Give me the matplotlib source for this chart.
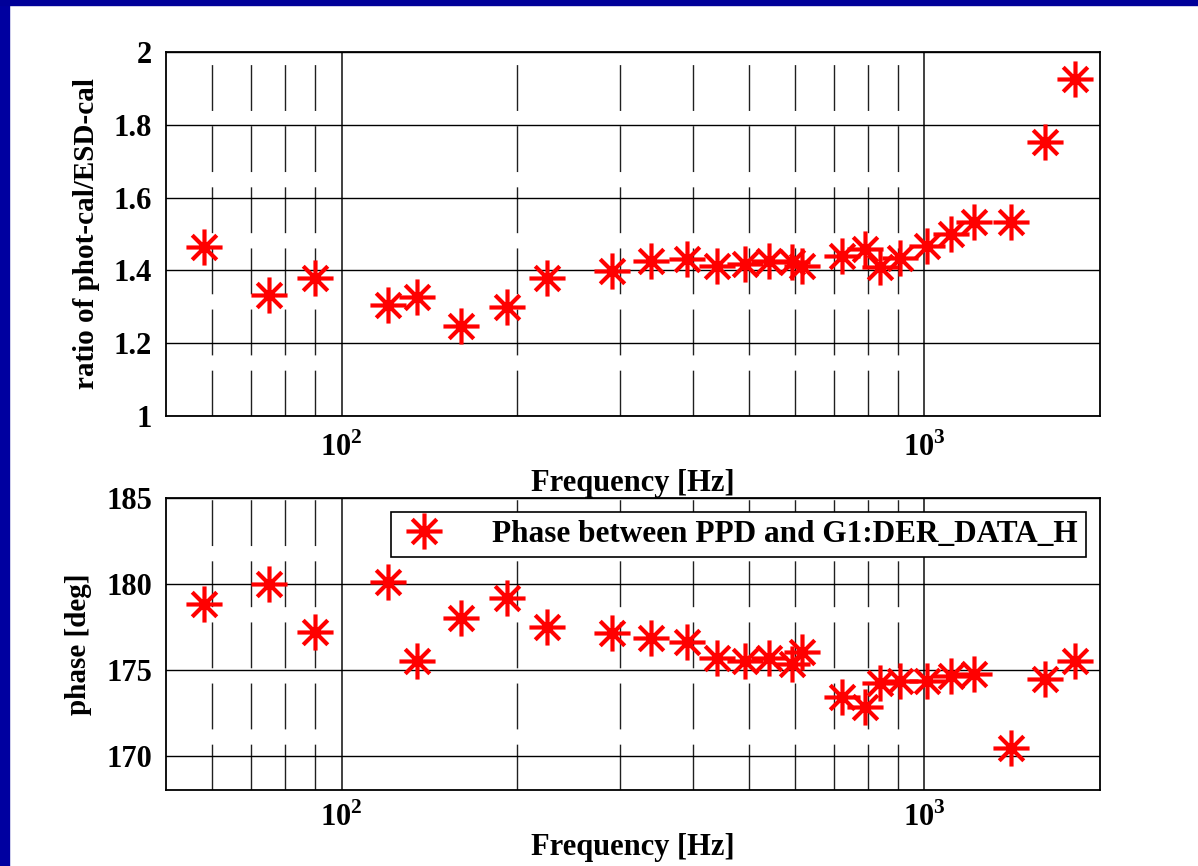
import numpy as np
import matplotlib
matplotlib.use("Agg")
import matplotlib.pyplot as plt
from matplotlib.path import Path
from matplotlib.patches import Rectangle
from matplotlib.ticker import NullFormatter, FixedLocator

plt.rcParams['font.family'] = ['Liberation Serif', 'DejaVu Serif']
plt.rcParams['font.weight'] = 'bold'
plt.rcParams['mathtext.fontset'] = 'custom'
plt.rcParams['mathtext.rm'] = 'Liberation Serif:bold'
plt.rcParams['mathtext.bf'] = 'Liberation Serif:bold'

# frequencies [Hz]
freq = [58, 75, 90, 120, 134.5, 160.5, 192, 225.5, 290.5, 339, 391, 440,
        492, 541.5, 593, 617.5, 722.5, 790, 839.5, 909.5, 1008, 1112, 1215,
        1410, 1612, 1814]

ratio = [1.463, 1.332, 1.378, 1.304, 1.328, 1.248, 1.299, 1.378, 1.399,
         1.427, 1.430, 1.412, 1.417, 1.426, 1.422, 1.412, 1.440, 1.459,
         1.409, 1.435, 1.468, 1.501, 1.533, 1.533, 1.752, 1.926]

phase = [178.83, 180.0, 177.22, 180.1, 175.5, 178.0, 179.2, 177.5, 177.13,
         176.84, 176.62, 175.70, 175.51, 175.70, 175.31, 176.03, 173.42,
         172.81, 174.24, 174.34, 174.34, 174.63, 174.73, 170.43, 174.44,
         175.51]

ratio_ticks = [1, 1.2, 1.4, 1.6, 1.8, 2]
ratio_labels = ['1', '1.2', '1.4', '1.6', '1.8', '2']
phase_ticks = [170, 175, 180, 185]
legend_label = 'Phase between PPD and G1:DER_DATA_H'

# MATLAB-like asterisk: plus plus a smaller cross
d = 0.68
verts = [(-1, 0), (1, 0), (0, -1), (0, 1), (-d, -d), (d, d), (-d, d), (d, -d)]
codes = [Path.MOVETO, Path.LINETO] * 4
asterisk = Path(verts, codes)

fig = plt.figure(figsize=(11.98, 8.66), dpi=100)
fig.patches.append(Rectangle((0, 0), 9 / 1198, 1, transform=fig.transFigure,
                             color='#0000a0', zorder=0))
fig.patches.append(Rectangle((0, 1 - 5 / 866), 1, 5 / 866,
                             transform=fig.transFigure, color='#000099', zorder=0))

ax1 = fig.add_axes([166 / 1198, 1 - 416 / 866, 934 / 1198, 364 / 866])
ax2 = fig.add_axes([166 / 1198, 1 - 790 / 866, 934 / 1198, 292 / 866])


def style(ax):
    ax.set_xscale('log')
    ax.set_xlim(50, 2000)
    ax.set_xticks([100, 1000])
    ax.set_xticklabels([r'$10^{2}$', r'$10^{3}$'])
    ax.xaxis.set_minor_locator(FixedLocator(
        [60, 70, 80, 90, 200, 300, 400, 500, 600, 700, 800, 900]))
    ax.xaxis.set_minor_formatter(NullFormatter())
    ax.tick_params(which='both', length=0, labelsize=22)
    ax.tick_params(axis='y', pad=10)
    ax.tick_params(axis='x', pad=12)
    ax.grid(True, which='major', axis='y', color='black', lw=1, ls='-')
    ax.grid(True, which='major', axis='x', color='#202020', lw=1.2, ls='-')
    ax.grid(True, which='minor', axis='x', color='#202020', lw=1,
            ls=(0, (33, 11)))
    ax.set_axisbelow(True)
    for s in ax.spines.values():
        s.set_linewidth(1.3)
        s.set_color('black')


style(ax1)
ax1.plot(freq, ratio, ls='none', marker=asterisk, ms=26, mew=3,
         color='#ff0000', mec='#ff0000')
ax1.set_ylim(1, 2)
ax1.set_yticks(ratio_ticks)
ax1.set_yticklabels(ratio_labels)
ax1.set_ylabel('ratio of phot-cal/ESD-cal', fontsize=21, fontweight='bold',
               labelpad=10)
ax1.set_xlabel('Frequency [Hz]', fontsize=22, fontweight='bold', labelpad=4)

style(ax2)
ax2.tick_params(axis='x', pad=9)
ax2.plot(freq, phase, ls='none', marker=asterisk, ms=26, mew=3,
         color='#ff0000', mec='#ff0000', label=legend_label)
ax2.set_ylim(168, 185)
ax2.set_yticks(phase_ticks)
ax2.set_ylabel('phase [deg]', fontsize=21, fontweight='bold', labelpad=10)
ax2.set_xlabel('Frequency [Hz]', fontsize=22, fontweight='bold', labelpad=0)
leg = ax2.legend(loc='upper right', fontsize=22.5, frameon=True, fancybox=False,
                 framealpha=1, edgecolor='black', borderaxespad=0.45,
                 handlelength=1.6, handletextpad=1.4, borderpad=0.25)
leg.get_frame().set_linewidth(1.2)

fig.savefig('out.png', dpi=100, facecolor='white')
